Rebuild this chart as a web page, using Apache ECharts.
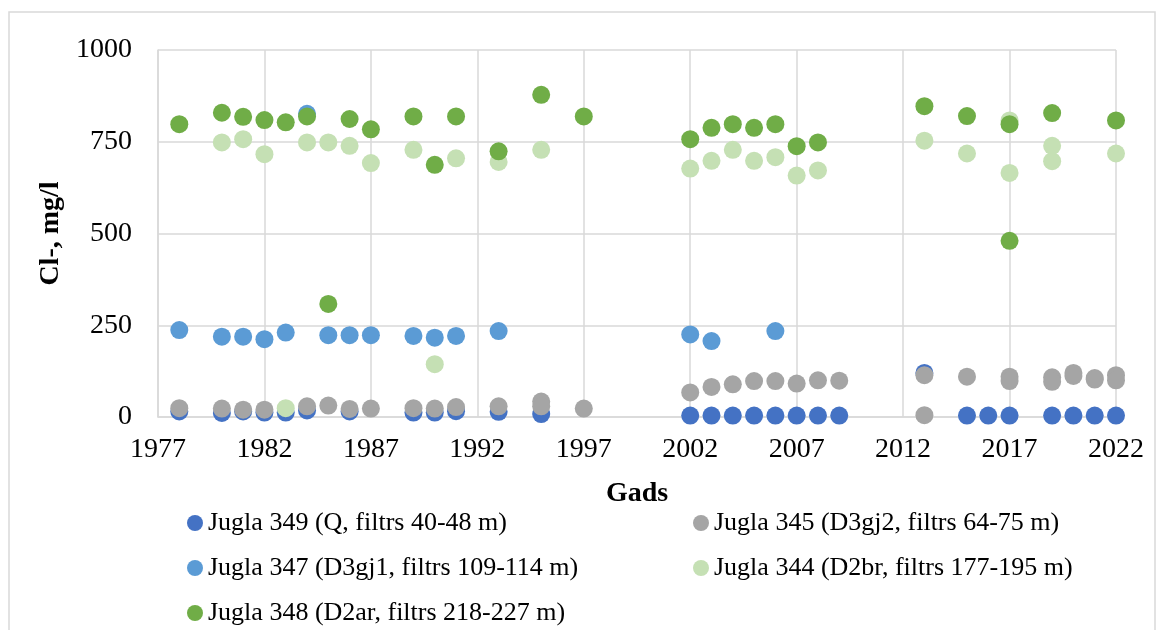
<!DOCTYPE html>
<html>
<head>
<meta charset="utf-8">
<script src="https://cdn.jsdelivr.net/npm/echarts@6/dist/echarts.min.js"></script>
<style>
  html, body { margin: 0; padding: 0; background: #fff; }
  #chart { width: 1160px; height: 630px; }
</style>
</head>
<body>
<div id="chart"></div>
<script>
// dati: gadi un vērtības katram urbumam
var names = [
    'Jugla 349 (Q, filtrs 40-48 m)',
    'Jugla 345 (D3gj2, filtrs 64-75 m)',
    'Jugla 347 (D3gj1, filtrs 109-114 m)',
    'Jugla 344 (D2br, filtrs 177-195 m)',
    'Jugla 348 (D2ar, filtrs 218-227 m)'
];
var colors = ['#4472C4', '#A5A5A5', '#5B9BD5', '#C5E0B4', '#70AD47'];

var years349 = [1978, 1980, 1981, 1982, 1983, 1984, 1986, 1989, 1990, 1991, 1993, 1995,
    2002, 2003, 2004, 2005, 2006, 2007, 2008, 2009, 2013, 2015, 2016, 2017, 2019, 2020, 2021, 2022];
var values349 = [15, 11, 15, 12, 12, 18, 15, 12, 12, 16, 14, 8,
    4, 4, 4, 4, 4, 4, 4, 4, 120, 4, 4, 4, 4, 4, 4, 4];

var years345 = [1978, 1980, 1981, 1982, 1984, 1985, 1986, 1987, 1989, 1990, 1991, 1993, 1995, 1995, 1997,
    2002, 2003, 2004, 2005, 2006, 2007, 2008, 2009, 2013, 2013, 2015, 2017, 2017, 2019, 2019,
    2020, 2020, 2021, 2021, 2022, 2022];
var values345 = [24, 23, 20, 20, 29, 31, 22, 23, 24, 23, 27, 29, 42, 29, 23,
    67, 82, 89, 98, 98, 91, 100, 99, 114, 5, 110, 110, 98, 108, 96,
    120, 112, 106, 102, 114, 100];

var years347 = [1978, 1980, 1981, 1982, 1983, 1984, 1985, 1986, 1987, 1989, 1990, 1991, 1993, 2002, 2003, 2006];
var values347 = [237, 219, 219, 212, 230, 826, 223, 223, 223, 221, 216, 221, 234, 225, 207, 234];

var years344 = [1980, 1981, 1982, 1983, 1984, 1985, 1986, 1987, 1989, 1990, 1991, 1993, 1995,
    2002, 2003, 2004, 2005, 2006, 2007, 2008, 2013, 2015, 2017, 2017, 2019, 2019, 2022];
var values344 = [748, 757, 716, 24, 748, 748, 739, 692, 728, 144, 705, 695, 728,
    677, 698, 728, 698, 708, 658, 672, 753, 718, 808, 665, 739, 697, 718];

var years348 = [1978, 1980, 1981, 1982, 1983, 1984, 1985, 1986, 1987, 1989, 1990, 1991, 1993, 1995, 1997,
    2002, 2003, 2004, 2005, 2006, 2007, 2008, 2013, 2015, 2017, 2017, 2019, 2022];
var values348 = [798, 829, 818, 809, 803, 819, 308, 812, 784, 819, 687, 819, 724, 878, 819,
    757, 788, 798, 788, 798, 738, 748, 847, 820, 798, 480, 828, 808];

var yearsAll = [years349, years345, years347, years344, years348];
var valuesAll = [values349, values345, values347, values344, values348];

function pairs(xs, ys) {
    return xs.map(function (x, i) { return [x, ys[i]]; });
}

var font = 'Liberation Serif';
var chart = echarts.init(document.getElementById('chart'));

var series = names.map(function (n, i) {
    return {
        name: n,
        type: 'scatter',
        symbolSize: 18,
        itemStyle: { color: colors[i], opacity: 1 },
        data: pairs(yearsAll[i], valuesAll[i])
    };
});

var legendText = { fontFamily: font, fontSize: 26, lineHeight: 26, color: '#000' };
var gridLine = { color: '#d9d9d9', width: 1.5 };

// leģenda divās kolonnās
function legendCol(left, items) {
    return {
        orient: 'vertical',
        left: left,
        top: 510,
        padding: 0,
        height: 120,
        itemWidth: 16,
        itemHeight: 16,
        itemGap: 19,
        icon: 'circle',
        textStyle: legendText,
        data: items
    };
}

var option = {
    animation: false,
    backgroundColor: '#fff',
    textStyle: { fontFamily: font },
    graphic: [{
        type: 'rect',
        shape: { x: 9, y: 12, width: 1146, height: 640 },
        style: { fill: 'none', stroke: '#d9d9d9', lineWidth: 1.5 },
        z: -1
    }],
    grid: { left: 158, right: 44, top: 50, bottom: 213 },
    xAxis: {
        type: 'value',
        min: 1977,
        max: 2022,
        interval: 5,
        name: 'Gads',
        nameLocation: 'middle',
        nameGap: 63,
        nameTextStyle: { fontFamily: font, fontSize: 28, fontWeight: 'bold', color: '#000' },
        axisLine: { show: true, lineStyle: gridLine },
        axisTick: { show: false },
        axisLabel: {
            fontFamily: font, fontSize: 28, color: '#000', margin: 19,
            formatter: function (v) { return String(v); }
        },
        splitLine: { show: true, lineStyle: gridLine }
    },
    yAxis: {
        type: 'value',
        min: 0,
        max: 1000,
        interval: 250,
        name: 'Cl-, mg/l',
        nameLocation: 'middle',
        nameGap: 90,
        nameTextStyle: { fontFamily: font, fontSize: 28, fontWeight: 'bold', color: '#000' },
        axisLine: { show: true, lineStyle: gridLine },
        axisTick: { show: false },
        axisLabel: {
            fontFamily: font, fontSize: 28, color: '#000', margin: 26,
            formatter: function (v) { return String(v); }
        },
        splitLine: { show: true, lineStyle: gridLine }
    },
    legend: [
        legendCol(187, [names[0], names[2], names[4]]),
        legendCol(693, [names[1], names[3]])
    ],
    series: series
};

chart.setOption(option);
</script>
</body>
</html>
